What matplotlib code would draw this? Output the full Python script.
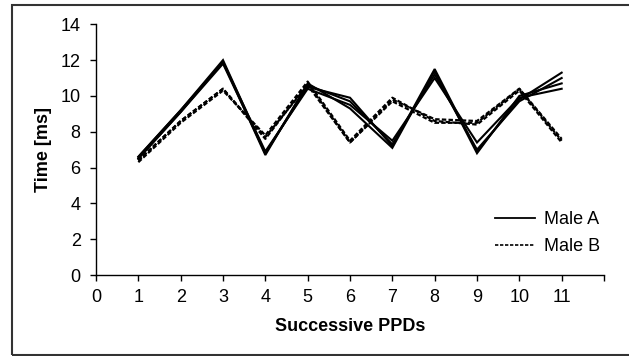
import matplotlib
matplotlib.use("Agg")
import matplotlib.pyplot as plt
from matplotlib.lines import Line2D
from matplotlib.patches import Rectangle

plt.rcParams['font.family'] = ['Liberation Sans', 'DejaVu Sans']

# successive PPD index
ppd = [1, 2, 3, 4, 5, 6, 7, 8, 9, 10, 11]

# Male A songs (solid)
male_a1 = [6.6, 9.2, 12.0, 6.8, 10.5, 9.9, 7.2, 11.5, 6.9, 9.8, 11.3]
male_a2 = [6.5, 9.1, 11.8, 6.8, 10.6, 9.7, 7.3, 11.2, 7.0, 9.7, 11.0]
male_a3 = [6.6, 9.2, 11.9, 6.9, 10.4, 9.5, 7.5, 11.0, 7.4, 9.9, 10.4]
male_a4 = [6.5, 9.1, 11.9, 6.7, 10.7, 9.3, 7.1, 11.4, 6.8, 10.0, 10.7]

# Male B songs (dashed)
male_b1 = [6.4, 8.6, 10.4, 7.6, 10.7, 7.4, 9.8, 8.7, 8.6, 10.4, 7.5]
male_b2 = [6.3, 8.5, 10.3, 7.8, 10.8, 7.5, 9.9, 8.6, 8.4, 10.3, 7.4]
male_b3 = [6.4, 8.6, 10.4, 7.7, 10.6, 7.4, 9.7, 8.5, 8.5, 10.4, 7.6]

fs = 13

fig = plt.figure(figsize=(6.29, 3.56), dpi=100)
ax = fig.add_axes([96 / 629, 1 - 275 / 356, 508 / 629, (275 - 24.3) / 356])

for ys in [male_a1, male_a2, male_a3, male_a4]:
    ax.plot(ppd, ys, color="black", lw=1.5, solid_joinstyle="miter")
for ys in [male_b1, male_b2, male_b3]:
    ax.plot(ppd, ys, color="black", lw=1.6, ls=(0, (2, 1)))

ax.set_xlim(0, 12)
ax.set_ylim(0, 14)
ax.set_xticks(range(0, 13))
ax.set_xticklabels([str(i) for i in range(0, 12)] + [""])
ax.set_yticks(range(0, 15, 2))
ax.tick_params(direction="out", length=4, width=1, labelsize=fs)
ax.tick_params(axis="x", pad=6)
ax.tick_params(axis="y", pad=7)
for s in ["top", "right"]:
    ax.spines[s].set_visible(False)
for s in ["left", "bottom"]:
    ax.spines[s].set_linewidth(1)

ax.set_xlabel("Successive PPDs", fontsize=fs, fontweight="bold", labelpad=9)
ax.set_ylabel("Time [ms]", fontsize=fs, fontweight="bold", labelpad=6)

handles = [Line2D([], [], color="black", lw=1.3),
           Line2D([], [], color="black", lw=1.2, ls=(0, (2, 1)))]
fig.legend(handles, ["Male A", "Male B"], loc="upper left",
           bbox_to_anchor=(495 / 629, 1 - 211 / 356), frameon=False,
           fontsize=fs, handlelength=2.2, handletextpad=0.5,
           labelspacing=0.55, borderpad=0, borderaxespad=0)

fig.patches.append(Rectangle((12 / 629, 1 / 356), 1.2, 350 / 356,
                             transform=fig.transFigure, fill=False,
                             edgecolor="#333333", lw=1.5))

fig.savefig("out.png", dpi=100)
